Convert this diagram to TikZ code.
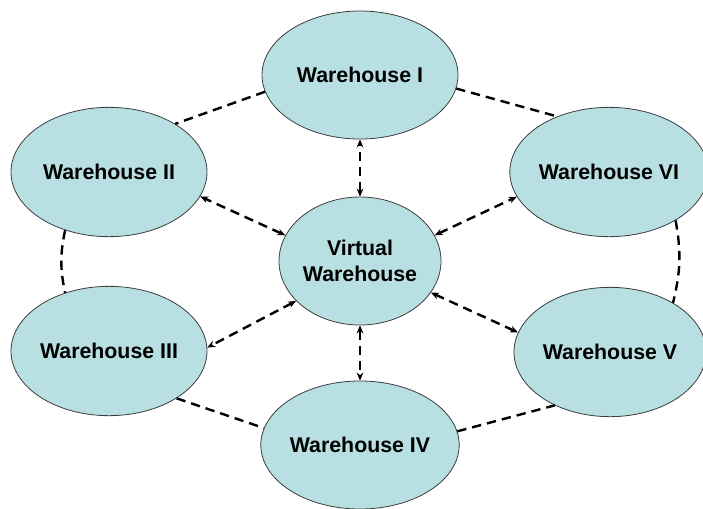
\documentclass[tikz,border=0pt]{standalone}
\usepackage{fontspec}
\setmainfont{Liberation Sans}
\usetikzlibrary{shapes.geometric,arrows.meta}
\definecolor{wfill}{RGB}{184,224,226}
\definecolor{wline}{RGB}{60,60,60}
\tikzset{
  wh/.style={ellipse, draw=wline, line width=0.6pt, fill=wfill, inner sep=0pt,
    minimum width=147pt, minimum height=97pt, align=center,
    font=\fontsize{16}{19}\selectfont\bfseries},
  ring/.style={dashed, dash pattern=on 7pt off 4.5pt, line width=1.8pt, black},
  link/.style={ring, {Stealth[length=6pt,width=5pt]}-{Stealth[length=6pt,width=5pt]}}
}
\begin{document}
\begin{tikzpicture}[x=0.75pt,y=-0.75pt]
\useasboundingbox (0,0) rectangle (703,508);
\node[wh, minimum height=96pt] (w1) at (360,75) {Warehouse I};
\node[wh] (w2) at (109,172) {Warehouse II};
\node[wh] (w3) at (109,351) {Warehouse III};
\node[wh, minimum height=96pt] (w4) at (360,445) {Warehouse IV};
\node[wh, minimum width=144pt] (w5) at (610,352) {Warehouse V};
\node[wh, minimum width=144pt] (w6) at (609,172) {Warehouse VI};
\node[wh, minimum width=121.5pt, minimum height=96pt] (v) at (360,261) {Virtual\\Warehouse};
% outer ring
\draw[ring] (w1.190) -- (w2.36);
\draw[ring] (w1.352) -- (w6.133);
\draw[ring] (w2.233) to[bend right=12] (w3.127);
\draw[ring] (w6.324) to[bend left=12] (w5.38);
\draw[ring] (w3.325) -- (w4.170);
\draw[ring] (w4.8) -- (w5.224);
% links to virtual warehouse
\draw[link] (v) -- (w1);
\draw[link] (v) -- (w4);
\draw[link] (v.161) -- (w2.345);
\draw[link] (v.19) -- (w6.195);
\draw[link] (v.212) -- (w3.2);
\draw[link] (v.336) -- (w5.168);
\end{tikzpicture}
\end{document}
